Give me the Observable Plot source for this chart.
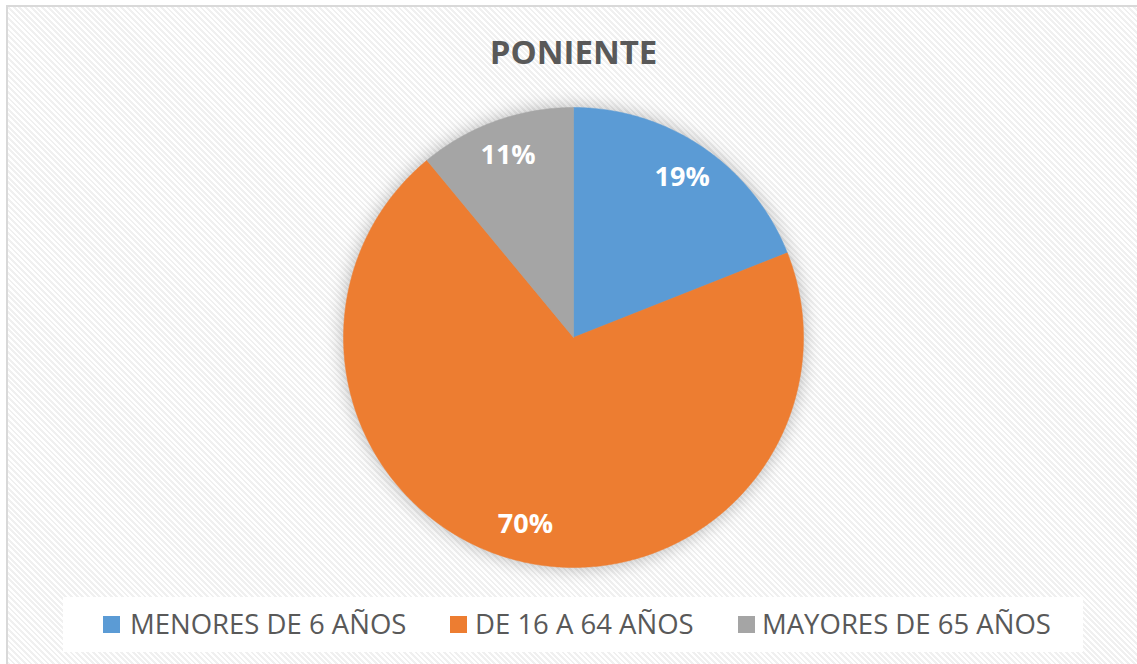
<!DOCTYPE html>
<html>
<head>
<meta charset="utf-8">
<script src="https://cdn.jsdelivr.net/npm/d3@7"></script>
<script src="https://cdn.jsdelivr.net/npm/@observablehq/plot@0.6"></script>
<style>
  html, body { margin: 0; padding: 0; background: #fff; }
  #wrap { position: relative; width: 1137px; height: 664px; overflow: hidden; background: #fff; }
  #frame {
    position: absolute; left: 6px; top: 5px; width: 1140px; height: 670px;
    border: 2px solid #d9d9d9; box-sizing: border-box;
    background: repeating-linear-gradient(45deg, #ffffff 0px, #ffffff 2px, #f0f0f0 2px, #f0f0f0 4px);
  }
  #title {
    position: absolute; left: 0; width: 1147px; top: 29px; text-align: center;
    font-family: "Open Sans", sans-serif; font-weight: bold;
    font-size: 33px; color: #595959;
  }
  #chart { position: absolute; left: 0; top: 90px; }
  #legend {
    position: absolute; left: 63px; top: 597px; width: 1020px; height: 55px; background: #fff;
  }
  .item { position: absolute; top: 0; height: 55px; font-family: "Open Sans", sans-serif;
    font-size: 27.5px; color: #595959; white-space: nowrap; }
  .sw { position: absolute; top: 19px; width: 17px; height: 17px; }
  .lt { position: absolute; top: 8px; }
</style>
</head>
<body>
<div id="wrap">
  <div id="frame"></div>
  <div id="title">PONIENTE</div>
  <div id="chart"></div>
  <div id="legend"></div>
</div>
<script>
const categories = ["MENORES DE 6 AÑOS", "DE 16 A 64 AÑOS", "MAYORES DE 65 AÑOS"];
const values = [19, 70, 11];
const labels = ["19%", "70%", "11%"];
const colors = ["#5b9bd5", "#ed7d31", "#a5a5a5"];

const W = 1137, H = 500, cx = 573, cy = 247, R = 230;

const pie = d3.pie().sort(null).value(d => d.value)(categories.map((c, i) => ({cat: c, value: values[i], label: labels[i]})));

// slice outlines (angles from the data, arc sampled for drawing)
const slicePts = [];
pie.forEach(p => {
  slicePts.push({cat: p.data.cat, x: 0, y: 0});
  const n = Math.max(4, Math.ceil((p.endAngle - p.startAngle) / 0.01));
  for (let k = 0; k <= n; k++) {
    const a = p.startAngle + (p.endAngle - p.startAngle) * k / n;
    slicePts.push({cat: p.data.cat, x: Math.sin(a), y: Math.cos(a)});
  }
  slicePts.push({cat: p.data.cat, x: 0, y: 0});
});

const labelPts = pie.map(p => {
  const a = (p.startAngle + p.endAngle) / 2;
  const r = 0.84;
  return {label: p.data.label, x: r * Math.sin(a), y: r * Math.cos(a)};
});

const chart = Plot.plot({
  width: W, height: H,
  margin: 0,
  x: {domain: [-cx / R, (W - cx) / R], axis: null},
  y: {domain: [-(H - cy) / R, cy / R], axis: null},
  color: {domain: categories, range: colors},
  style: {background: "transparent", overflow: "visible"},
  marks: [
    Plot.line(slicePts, {x: "x", y: "y", z: "cat", fill: "cat", stroke: "cat", strokeWidth: 0.5, curve: "linear"}),
    Plot.text(labelPts, {x: "x", y: "y", text: "label", fill: "#ffffff", fontSize: 27, fontWeight: "bold", fontFamily: "Open Sans, sans-serif"})
  ]
});
const lineG = chart.querySelector('g[aria-label="line"]');
if (lineG) lineG.style.filter = "drop-shadow(0px 0px 9px rgba(0,0,0,0.28))";
document.getElementById("chart").appendChild(chart);

const legendX = [[40, 67], [387, 412], [675, 699]];
const leg = document.getElementById("legend");
categories.forEach((c, i) => {
  const it = document.createElement("div");
  it.className = "item";
  it.style.left = "0px";
  it.innerHTML = `<div class="sw" style="left:${legendX[i][0]}px;background:${colors[i]}"></div><div class="lt" style="left:${legendX[i][1]}px">${c}</div>`;
  leg.appendChild(it);
});
</script>
</body>
</html>
